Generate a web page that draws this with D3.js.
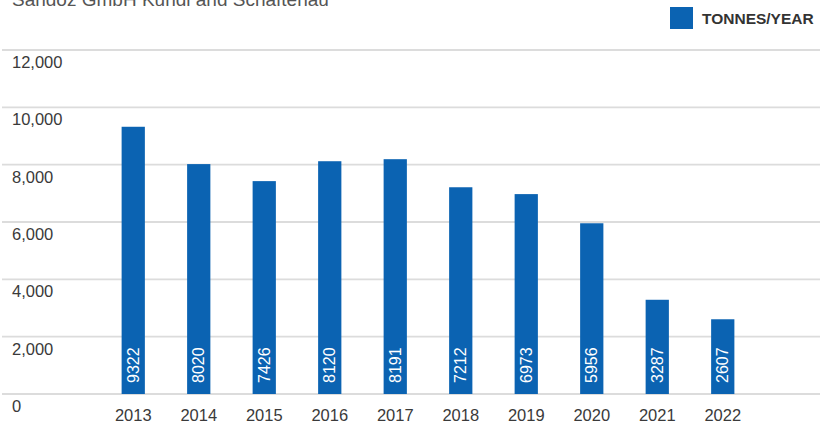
<!DOCTYPE html>
<html>
<head>
<meta charset="utf-8">
<script src="https://cdn.jsdelivr.net/npm/d3@7"></script>
<style>
  html, body { margin: 0; padding: 0; background: #fff; }
  svg { display: block; }
</style>
</head>
<body>
<svg id="chart" width="826" height="424"></svg>
<script>
// Waste volumes per year, Sandoz GmbH Kundl and Schaftenau
const years = ["2013", "2014", "2015", "2016", "2017", "2018", "2019", "2020", "2021", "2022"];
const tonnes = [9322, 8020, 7426, 8120, 8191, 7212, 6973, 5956, 3287, 2607];
const yTicks = [0, 2000, 4000, 6000, 8000, 10000, 12000];
const titleText = "Sandoz GmbH Kundl and Schaftenau";
const legendLabel = "TONNES/YEAR";

const W = 826, H = 424;
const barColor = "#0b63b2";
const font = "'Liberation Sans', Arial, Helvetica, sans-serif";

const svg = d3.select("#chart");

const y = d3.scaleLinear().domain([0, 12000]).range([394, 50]);
const x = d3.scaleBand().domain(years).range([100, 756]).paddingInner(0.645).paddingOuter(0.33);

// gridlines
svg.append("g").selectAll("line").data(yTicks).join("line")
  .attr("x1", 2).attr("x2", 820)
  .attr("y1", d => y(d)).attr("y2", d => y(d))
  .attr("stroke", "#dcdcdc").attr("stroke-width", 1.8);

// y tick labels, sitting just beneath their gridline
svg.append("g").selectAll("text").data(yTicks).join("text")
  .attr("x", 12).attr("y", d => y(d) + 18)
  .attr("font-family", font).attr("font-size", 16.5).attr("fill", "#3a3a3a")
  .text(d => d3.format(",")(d));

// bars
svg.append("g").selectAll("rect").data(tonnes).join("rect")
  .attr("x", (d, i) => x(years[i]))
  .attr("width", x.bandwidth())
  .attr("y", d => y(d))
  .attr("height", d => y(0) - y(d))
  .attr("fill", barColor);

// value labels inside bars, rotated
svg.append("g").selectAll("text").data(tonnes).join("text")
  .attr("transform", (d, i) => `translate(${x(years[i]) + x.bandwidth() / 2 + 5.5},${y(0) - 11}) rotate(-90)`)
  .attr("font-family", font).attr("font-size", 16).attr("fill", "#ffffff")
  .text(d => d);

// x axis labels
svg.append("g").selectAll("text").data(years).join("text")
  .attr("x", d => x(d) + x.bandwidth() / 2).attr("y", 421)
  .attr("text-anchor", "middle")
  .attr("font-family", font).attr("font-size", 16.5).attr("fill", "#3a3a3a")
  .text(d => d);

// title (top edge)
svg.append("text")
  .attr("x", 12).attr("y", 6)
  .attr("font-family", font).attr("font-size", 19).attr("fill", "#555")
  .text(titleText);

// legend
const lg = svg.append("g");
lg.append("rect").attr("x", 670).attr("y", 7).attr("width", 23).attr("height", 22).attr("fill", barColor);
lg.append("text").attr("x", 702).attr("y", 24)
  .attr("font-family", font).attr("font-size", 15.5).attr("font-weight", "bold").attr("fill", "#333")
  .text(legendLabel);
</script>
</body>
</html>
